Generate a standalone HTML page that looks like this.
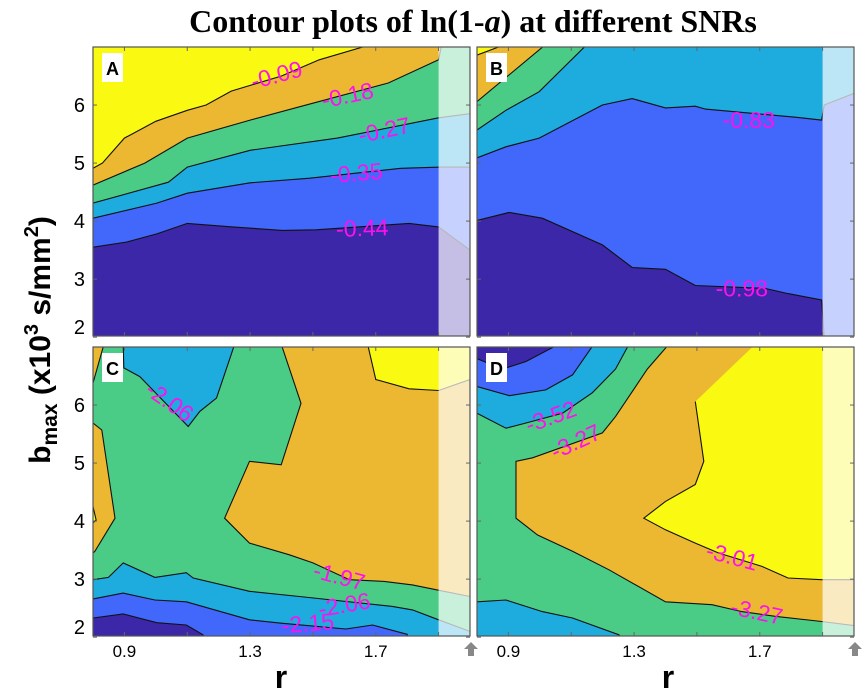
<!DOCTYPE html>
<html><head><meta charset="utf-8">
<style>
html,body{margin:0;padding:0;background:#fff;}
svg{display:block;}
text{font-family:"Liberation Sans",sans-serif;}
</style></head>
<body>
<svg id="chart" width="866" height="697" viewBox="0 0 866 697" xmlns="http://www.w3.org/2000/svg">
<text x="473" y="32" text-anchor="middle" font-weight="bold" font-size="32" style="font-family:'Liberation Serif',serif">Contour plots of ln(1-<tspan font-style="italic">a</tspan>) at different SNRs</text>
<text transform="translate(50,340) rotate(-90)" text-anchor="middle" font-weight="bold" font-size="30">b<tspan font-size="21" dy="7">max</tspan><tspan dy="-7"> (x10</tspan><tspan font-size="20" dy="-12">3</tspan><tspan dy="12"> s/mm</tspan><tspan font-size="20" dy="-12">2</tspan><tspan dy="12">)</tspan></text>
<text x="281" y="688" text-anchor="middle" font-weight="bold" font-size="32">r</text>
<text x="668" y="688" text-anchor="middle" font-weight="bold" font-size="32">r</text>
<g id="layers"></g>
</svg>
<script>
// ---- data (r, b_max) ----
const xTicks = [0.9, 1.1, 1.3, 1.5, 1.7, 1.9];
const xTickLabels = ["0.9", "", "1.3", "", "1.7", ""];
const yTicks = [2, 3, 4, 5, 6];
const yTickLabels = ["2", "3", "4", "5", "6"];
const colors = {yellow:"#f9f911", orange:"#ecb832", green:"#4bcc86", cyan:"#1eabdd", blue:"#4167fb", navy:"#3c27a8"};

// Panel A: boundaries (filled above)
const aBlue = [[0.8,3.55],[0.908,3.64],[1.003,3.78],[1.10,3.96],[1.244,3.90],[1.403,3.84],[1.51,3.85],[1.806,3.96],[1.90,3.9],[2.0,3.5]];
const aCyan = [[0.8,4.05],[1.003,4.31],[1.10,4.48],[1.30,4.66],[1.49,4.74],[1.78,4.91],[1.91,4.93],[2.0,4.93]];
const aGreen = [[0.8,4.31],[1.04,4.67],[1.10,4.93],[1.30,5.22],[1.578,5.43],[1.90,5.78],[2.0,5.85]];
const aOrange = [[0.8,4.62],[0.965,5.0],[1.10,5.43],[1.30,5.74],[1.457,5.97],[1.74,6.38],[1.90,6.78],[1.91,7.05]];
const aYellow = [[0.8,4.91],[0.83,5.0],[0.9,5.43],[1.0,5.72],[1.1,5.91],[1.16,6.0],[1.24,6.24],[1.4,6.5],[1.52,6.78],[1.69,7.05]];
// Panel B
const bBlue = [[0.8,4.01],[0.903,4.15],[1.008,4.05],[1.199,3.59],[1.294,3.20],[1.40,3.17],[1.495,2.89],[1.717,2.84],[1.79,2.75],[1.897,2.64],[1.905,2.02],[2.0,2.0]];
const bCyan = [[0.8,5.09],[0.892,5.28],[0.998,5.43],[1.199,6.0],[1.294,6.11],[1.40,5.95],[1.495,5.98],[1.527,5.93],[1.813,5.79],[1.897,5.74],[1.905,6.0],[2.0,6.2]];
const bGreen = [[0.8,5.57],[0.892,5.91],[0.998,6.23],[1.151,7.05]];
const bOrange = [[0.8,6.06],[1.02,7.05]];
const bYellow = [[0.8,6.86],[0.893,7.05]];
// Panel C regions (closed polygons over green base)
const cOrangeR = [[1.399,7.05],[1.462,6.03],[1.399,4.97],[1.298,5.03],[1.219,4.05],[1.298,3.62],[1.425,3.42],[1.50,3.28],[1.616,2.99],[1.727,2.96],[1.817,2.90],[1.907,2.80],[2.0,2.70],[2.0,7.05]];
const cOrangeL1 = [[0.80,7.05],[0.835,7.05],[0.80,6.38]];
const cOrangeL2 = [[0.80,5.69],[0.828,5.57],[0.870,4.05],[0.806,3.48],[0.80,3.45]];
const cYellowL = [[0.80,4.25],[0.81,4.02],[0.80,3.97]];
const cCyanTop = [[0.896,7.05],[0.898,6.64],[0.949,6.49],[1.103,5.63],[1.140,5.89],[1.193,6.12],[1.251,7.05]];
const cYellowTR = [[1.674,7.05],[1.70,6.44],[1.806,6.28],[1.90,6.25],[2.0,6.44],[2.0,7.05]];
const cCyanBot = [[0.80,2.99],[0.849,3.03],[0.896,3.28],[0.997,3.03],[1.097,3.11],[1.119,3.02],[1.298,2.79],[1.457,2.70],[1.753,2.53],[1.817,2.47],[1.90,2.30],[2.0,2.1],[2.0,1.9],[0.8,1.9]];
const cBlue = [[0.80,2.66],[0.896,2.76],[0.997,2.64],[1.097,2.61],[1.298,2.30],[1.399,2.24],[1.605,2.14],[1.69,2.21],[1.80,2.05],[1.8,1.9],[0.8,1.9]];
const cNavy = [[0.80,2.33],[0.896,2.40],[1.003,2.25],[1.097,2.21],[1.150,2.04],[1.15,1.9],[0.8,1.9]];
// Panel D regions
const dOrange = [[1.411,7.05],[1.342,6.62],[1.241,5.80],[1.199,5.52],[0.977,5.09],[0.924,5.03],[0.924,4.05],[0.993,3.76],[1.104,3.48],[1.22,3.16],[1.40,2.61],[1.548,2.56],[1.643,2.44],[1.749,2.36],[1.897,2.27],[2.0,2.2],[2.0,7.05]];
const dYellow = [[1.686,7.05],[2.0,7.05],[2.0,2.99],[1.897,2.99],[1.79,3.02],[1.707,3.22],[1.569,3.45],[1.495,3.62],[1.40,3.85],[1.331,4.05],[1.40,4.34],[1.495,4.63],[1.522,5.03],[1.495,6.06]];
const dCyanTop = [[0.80,7.05],[0.80,5.86],[0.892,5.60],[0.956,5.69],[1.072,5.86],[1.167,6.21],[1.241,6.62],[1.284,7.05]];
const dBlueTop = [[0.80,7.05],[0.80,6.32],[0.903,6.16],[1.019,6.26],[1.104,6.52],[1.172,7.05]];
const dNavyTop = [[0.80,7.05],[0.80,6.80],[0.881,6.62],[0.956,6.75],[1.061,7.05]];
const dCyanBot = [[0.80,2.61],[0.892,2.64],[1.008,2.44],[1.104,2.33],[1.252,2.04],[1.26,1.9],[0.8,1.9]];
// contour labels: [text, r, b, rotation]
const aLabels = [["-0.09",1.384,6.52,-15],["-0.18",1.61,6.17,-12],["-0.27",1.727,5.57,-12],["-0.35",1.638,4.83,-5],["-0.44",1.657,3.88,-2]];
const bLabels = [["-0.83",1.665,5.74,0],["-0.98",1.643,2.84,0]];
const cLabels = [["-2.06",1.044,6.06,35],["-1.97",1.584,3.05,15],["-2.06",1.60,2.56,-10],["-2.15",1.484,2.24,-5]];
const dLabels = [["-3.52",1.035,5.80,-20],["-3.27",1.114,5.37,-25],["-3.01",1.612,3.39,15],["-3.27",1.691,2.44,12]];

const NS = "http://www.w3.org/2000/svg";
const root = document.getElementById("layers");
const W = 377, H = 289, R0 = 0.8, R1 = 2.0, B0 = 2.02, B1 = 7.0;

function mk(tag, parent) { const e = document.createElementNS(NS, tag); parent.appendChild(e); return e; }

function makePanel(id, x0, y0, base, layers, labels, letter, showY, showX) {
  const xs = r => x0 + (r - R0) / (R1 - R0) * W;
  const ys = b => y0 + (B1 - b) / (B1 - B0) * H;
  const g = mk("g", root);
  
  
  const cp = mk("clipPath", g); cp.setAttribute("id", "clip" + id);
  const cr = mk("rect", cp); cr.setAttribute("x", x0); cr.setAttribute("y", y0); cr.setAttribute("width", W); cr.setAttribute("height", H);
  const body = mk("g", g); body.setAttribute("clip-path", "url(#clip" + id + ")");
  const bg = mk("rect", body);
  
  
  bg.setAttribute("x", x0); bg.setAttribute("y", y0); bg.setAttribute("width", W); bg.setAttribute("height", H); bg.setAttribute("fill", colors[base]);
  layers.forEach((L, i) => {
    let pts = L.pts.slice();
    if (L.above) { const last = pts[pts.length - 1]; pts.push([last[0], 7.05]); pts.push([0.8, 7.05]); }
    const p = mk("polygon", body);
    
    
    p.setAttribute("points", pts.map(q => xs(q[0]).toFixed(1) + "," + ys(q[1]).toFixed(1)).join(" "));
    p.setAttribute("fill", colors[L.color]);
    const line = mk("polyline", body);
    
    
    line.setAttribute("points", (L.above ? L.pts : pts).map(q => xs(q[0]).toFixed(1) + "," + ys(q[1]).toFixed(1)).join(" "));
    line.setAttribute("fill", "none"); line.setAttribute("stroke", "#111"); line.setAttribute("stroke-width", "1.1");
  });
  labels.forEach(l => {
    const t = mk("text", body);
    
    
    t.setAttribute("x", xs(l[1])); t.setAttribute("y", ys(l[2]) + 8);
    t.setAttribute("text-anchor", "middle"); t.setAttribute("font-size", "23"); t.setAttribute("fill", "#ff10ee");
    t.setAttribute("transform", "rotate(" + l[3] + " " + xs(l[1]) + " " + ys(l[2]) + ")");
    t.textContent = l[0];
  });
  const ov = mk("rect", body);
  
  
  ov.setAttribute("x", xs(1.9)); ov.setAttribute("y", y0); ov.setAttribute("width", xs(2.0) - xs(1.9)); ov.setAttribute("height", H);
  ov.setAttribute("fill", "#fff"); ov.setAttribute("opacity", "0.7");
  xTicks.forEach(v => {
    [y0, y0 + H].forEach((yy, k) => {
      const tk = mk("line", g);
      
      
      tk.setAttribute("x1", xs(v)); tk.setAttribute("x2", xs(v)); tk.setAttribute("y1", yy); tk.setAttribute("y2", yy + (k ? -4 : 4));
      tk.setAttribute("stroke", "#666");
    });
  });
  yTicks.forEach(v => {
    [x0, x0 + W].forEach((xx, k) => {
      const tk = mk("line", g);
      
      
      tk.setAttribute("x1", xx); tk.setAttribute("x2", xx + (k ? -4 : 4)); tk.setAttribute("y1", ys(v)); tk.setAttribute("y2", ys(v));
      tk.setAttribute("stroke", "#666");
    });
  });
  const fr = mk("rect", g);
  
  
  fr.setAttribute("x", x0); fr.setAttribute("y", y0); fr.setAttribute("width", W); fr.setAttribute("height", H);
  fr.setAttribute("fill", "none"); fr.setAttribute("stroke", "#555"); fr.setAttribute("stroke-width", "1.2");
  const lb = mk("rect", g);
  
  
  lb.setAttribute("x", x0 + 9); lb.setAttribute("y", y0 + 6); lb.setAttribute("width", 21); lb.setAttribute("height", 29); lb.setAttribute("fill", "#fff");
  const lt = mk("text", g);
  
  
  lt.setAttribute("x", x0 + 19.5); lt.setAttribute("y", y0 + 28); lt.setAttribute("text-anchor", "middle");
  lt.setAttribute("font-size", "18"); lt.setAttribute("font-weight", "bold");
  lt.textContent = letter;
  if (showY) yTicks.forEach((v, i) => {
    const t = mk("text", g);
    
    
    t.setAttribute("x", x0 - 8); t.setAttribute("y", Math.min(ys(v) + 7, y0 + H - 2)); t.setAttribute("text-anchor", "end"); t.setAttribute("font-size", "20");
    t.textContent = yTickLabels[i];
  });
  if (showX) {
    xTicks.forEach((v, i) => {
      if (!xTickLabels[i]) return;
      const t = mk("text", g);
      
      
      t.setAttribute("x", xs(v)); t.setAttribute("y", y0 + H + 21); t.setAttribute("text-anchor", "middle"); t.setAttribute("font-size", "17");
      t.textContent = xTickLabels[i];
    });
    const ar = mk("polygon", g);
    
    
    const ax = x0 + W + 1, ay = y0 + H + 6;
    ar.setAttribute("points", [[ax, ay], [ax + 7, ay + 7], [ax + 3, ay + 7], [ax + 3, ay + 14], [ax - 3, ay + 14], [ax - 3, ay + 7], [ax - 7, ay + 7]].map(q => q.join(",")).join(" "));
    ar.setAttribute("fill", "#888");
  }
}

makePanel("A", 93, 47, "navy", [
  {pts: aBlue, color: "blue", above: true}, {pts: aCyan, color: "cyan", above: true},
  {pts: aGreen, color: "green", above: true}, {pts: aOrange, color: "orange", above: true},
  {pts: aYellow, color: "yellow", above: true}], aLabels, "A", true, false);
makePanel("B", 477, 47, "navy", [
  {pts: bBlue, color: "blue", above: true}, {pts: bCyan, color: "cyan", above: true},
  {pts: bGreen, color: "green", above: true}, {pts: bOrange, color: "orange", above: true},
  {pts: bYellow, color: "yellow", above: true}], bLabels, "B", false, false);
makePanel("C", 93, 347, "green", [
  {pts: cOrangeR, color: "orange"}, {pts: cOrangeL1, color: "orange"}, {pts: cOrangeL2, color: "orange"},
  {pts: cYellowL, color: "yellow"}, {pts: cCyanTop, color: "cyan"}, {pts: cYellowTR, color: "yellow"},
  {pts: cCyanBot, color: "cyan"}, {pts: cBlue, color: "blue"}, {pts: cNavy, color: "navy"}], cLabels, "C", true, true);
makePanel("D", 477, 347, "green", [
  {pts: dOrange, color: "orange"}, {pts: dYellow, color: "yellow"}, {pts: dCyanTop, color: "cyan"},
  {pts: dBlueTop, color: "blue"}, {pts: dNavyTop, color: "navy"}, {pts: dCyanBot, color: "cyan"}], dLabels, "D", false, true);
</script>
</body></html>
